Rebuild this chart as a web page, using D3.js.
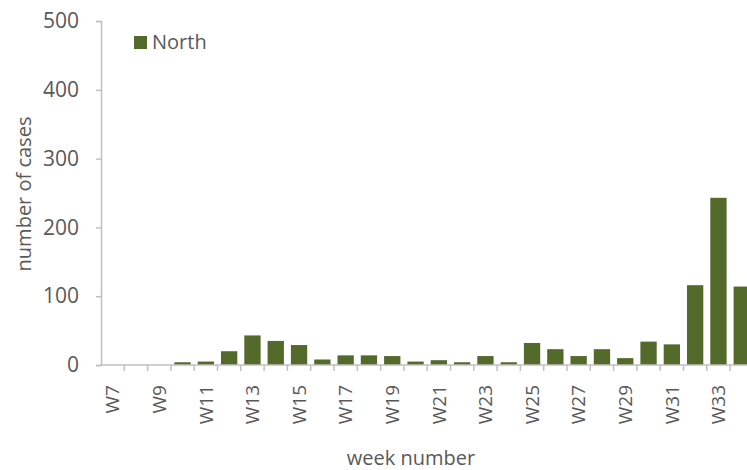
<!DOCTYPE html>
<html>
<head>
<meta charset="utf-8">
<script src="https://cdn.jsdelivr.net/npm/d3@7/dist/d3.min.js"></script>
<style>
  html, body { margin: 0; padding: 0; background: #fff; }
  svg { display: block; }
  text { font-family: "Open Sans", "Noto Sans", sans-serif; fill: #595959; }
</style>
</head>
<body>
<svg id="chart" width="747" height="470"></svg>
<script>
const weeks = ["W7","W8","W9","W10","W11","W12","W13","W14","W15","W16","W17","W18","W19","W20",
               "W21","W22","W23","W24","W25","W26","W27","W28","W29","W30","W31","W32","W33","W34"];
const north = [0,0,0,4,5,20,43,35,29,8,14,14,13,5,7,4,13,4,32,23,13,23,10,34,30,116,243,114];
const yTicks = [0,100,200,300,400,500];
const seriesName = "North";

const svg = d3.select("#chart");
const left = 101, baseY = 365, topY = 21;
const step = 23.3;

const x = d3.scaleBand().domain(weeks).range([left, left + step * weeks.length])
  .paddingInner(0.3).paddingOuter(0.15);
const y = d3.scaleLinear().domain([0, 500]).range([baseY, topY]);

const axisColor = "#c0c0c0";

// bars
svg.append("g").selectAll("rect").data(north).join("rect")
  .attr("x", (d, i) => x(weeks[i]))
  .attr("width", x.bandwidth())
  .attr("y", d => y(d))
  .attr("height", d => y(0) - y(d))
  .attr("fill", "#536a2b");

// y axis
const yAxis = svg.append("g").attr("transform", `translate(${left},0)`)
  .call(d3.axisLeft(y).tickValues(yTicks).tickSize(5).tickPadding(17));
yAxis.select(".domain").attr("stroke", axisColor).attr("stroke-width", 1.5);
yAxis.selectAll(".tick line").attr("stroke", axisColor).attr("stroke-width", 1.5);
yAxis.selectAll(".tick text").style("font-size", "21px").attr("fill", "#595959")
  .style("font-family", "'Open Sans', sans-serif");

// x axis line
svg.append("line").attr("x1", left).attr("x2", 747).attr("y1", baseY).attr("y2", baseY)
  .attr("stroke", axisColor).attr("stroke-width", 1.5);

// x boundary ticks
const boundaries = weeks.map(w => x(w) - x.step() * x.paddingInner() / 2).slice(1);
svg.append("g").selectAll("line").data(boundaries).join("line")
  .attr("x1", d => d).attr("x2", d => d)
  .attr("y1", baseY).attr("y2", baseY + 6)
  .attr("stroke", axisColor).attr("stroke-width", 1.5);

// x labels (every other)
const xAxis = svg.append("g").attr("transform", `translate(0,${baseY})`)
  .call(d3.axisBottom(x).tickValues(weeks.filter((w, i) => i % 2 === 0)).tickSize(0));
xAxis.select(".domain").remove();
xAxis.selectAll(".tick text")
  .style("font-size", "19px").attr("fill", "#595959")
  .style("font-family", "'Open Sans', sans-serif")
  .attr("text-anchor", "end")
  .attr("transform", "rotate(-90)")
  .attr("x", -20).attr("y", 0).attr("dy", "0.35em");

// axis titles
svg.append("text").attr("x", 411).attr("y", 465).attr("text-anchor", "middle")
  .style("font-size", "20px").text("week number");
svg.append("text").attr("transform", "translate(31,194) rotate(-90)")
  .attr("text-anchor", "middle").style("font-size", "20px").text("number of cases");

// legend
const lg = svg.append("g");
lg.append("rect").attr("x", 134).attr("y", 36).attr("width", 13).attr("height", 13).attr("fill", "#536a2b");
lg.append("text").attr("x", 152).attr("y", 49).style("font-size", "20px").text(seriesName);
</script>
</body>
</html>
